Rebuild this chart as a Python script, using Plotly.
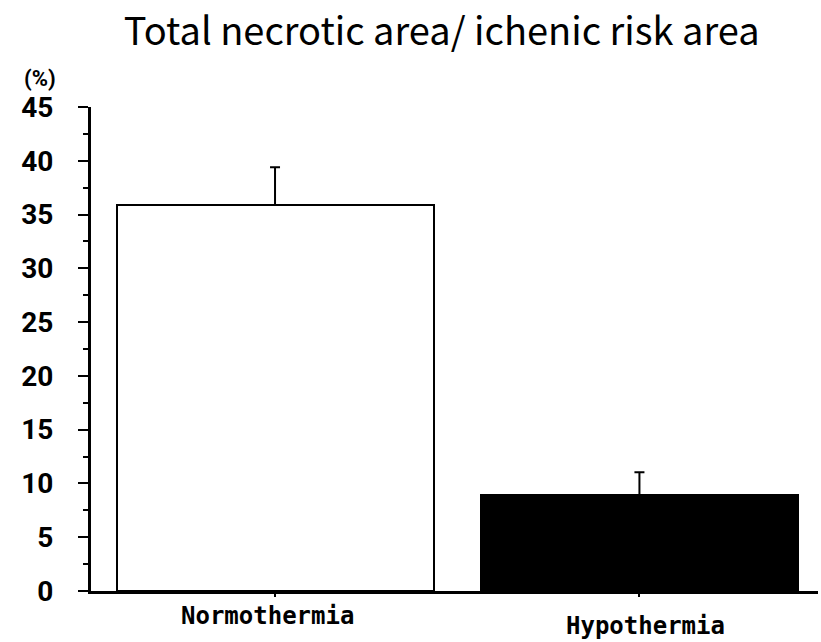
import plotly.graph_objects as go

categories = ["Normothermia", "Hypothermia"]
values = [35.9, 8.9]
errors = [3.5, 2.15]
y_ticks = [0, 5, 10, 15, 20, 25, 30, 35, 40, 45]
label_shift_y = [0, -10]
label_shift_x = [-8, 6]

fig = go.Figure()
fig.add_trace(go.Bar(
    x=[0, 1], y=values, width=0.87,
    marker=dict(color=["white", "black"], line=dict(color="black", width=2)),
    error_y=dict(type="data", array=errors, arrayminus=[0, 0], symmetric=False,
                 color="black", thickness=2, width=5),
))

for i, (c, sy, sx) in enumerate(zip(categories, label_shift_y, label_shift_x)):
    fig.add_annotation(x=i, y=0, xref="x", yref="y", text=c, showarrow=False,
                       yanchor="top", yshift=-9 + sy, xshift=sx,
                       font=dict(family="DejaVu Sans Mono, Liberation Mono, monospace",
                                 size=24, color="black", weight="bold"))

fig.add_annotation(x=0, y=1, xref="paper", yref="paper", text="(%)", showarrow=False,
                   xanchor="right", yanchor="bottom", xshift=-33, yshift=14,
                   font=dict(family="Roboto, sans-serif",
                             size=22, color="black", weight="bold"))

fig.update_layout(
    width=821, height=642,
    margin=dict(l=91, r=3, t=107, b=51),
    paper_bgcolor="white", plot_bgcolor="white",
    showlegend=False, bargap=0,
    title=dict(text="Total necrotic area/ ichenic risk area", x=0.538, xanchor="center",
               y=0.95, yanchor="middle",
               font=dict(family="Noto Sans CJK JP, Noto Sans, sans-serif", size=38, color="black")),
    xaxis=dict(range=[-0.505, 1.49], tickvals=[0, 1], ticktext=["", ""],
               showline=True, linecolor="black", linewidth=3,
               ticks="outside", ticklen=3, tickwidth=2, tickcolor="black",
               showgrid=False, zeroline=False, fixedrange=True),
    yaxis=dict(range=[0, 45], tickvals=y_ticks, ticktext=[str(v) for v in y_ticks],
               showline=True, linecolor="black", linewidth=3,
               ticks="outside", ticklen=10, tickwidth=2, tickcolor="black",
               minor=dict(dtick=2.5, ticks="outside", ticklen=5, tickwidth=2, tickcolor="black"),
               ticklabelstandoff=19,
               tickfont=dict(family="Roboto, sans-serif",
                             size=28, color="black", weight="bold"),
               showgrid=False, zeroline=False, fixedrange=True),
)

fig.write_html("out.html")
